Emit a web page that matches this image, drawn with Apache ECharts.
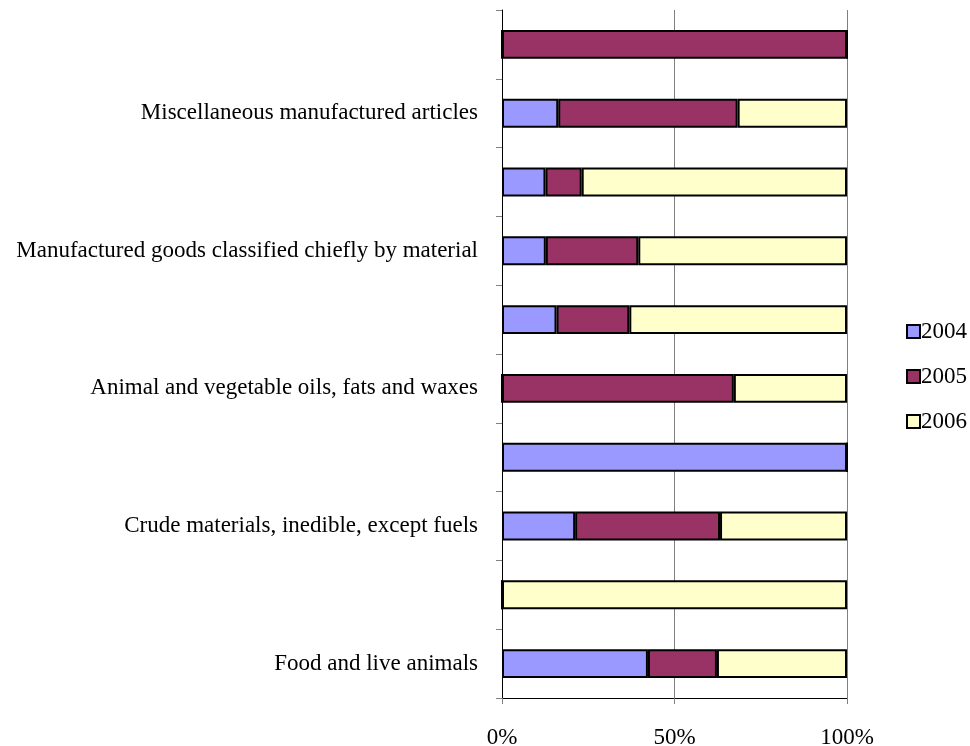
<!DOCTYPE html>
<html><head><meta charset="utf-8">
<script src="https://cdn.jsdelivr.net/npm/echarts@6/dist/echarts.min.js"></script>
<style>html,body{margin:0;padding:0;background:#fff}#c{width:970px;height:746px}</style>
</head><body><div id="c"></div>
<script>
const categories = [
  'Food and live animals',
  'Beverages and tobacco',
  'Crude materials, inedible, except fuels',
  'Mineral fuels, lubricants and related materials',
  'Animal and vegetable oils, fats and waxes',
  'Chemicals and related products, n.e.s.',
  'Manufactured goods classified chiefly by material',
  'Machinery and transport equipment',
  'Miscellaneous manufactured articles',
  'Commodities and transactions not classified elsewhere'
];
const years = ['2004', '2005', '2006'];
const s2004 = [42.3, 0, 21.2, 100, 0, 15.8, 12.7, 12.6, 16.3, 0];
const s2005 = [20.0, 0, 42.0, 0, 67.2, 21.1, 26.8, 10.5, 52.0, 100];
const s2006 = [37.7, 100, 36.8, 0, 32.8, 63.1, 60.5, 76.9, 31.7, 0];
const xTicks = [0, 50, 100];

const colors = ['#9999FF', '#993366', '#FFFFCC'];
const font = '"Liberation Serif", "DejaVu Serif", serif';
const chart = echarts.init(document.getElementById('c'));
const mk = (name, data, i) => ({
  name, type: 'bar', stack: 'total', data, barWidth: '42%',
  itemStyle: { color: colors[i], borderColor: '#000', borderWidth: 2 },
  emphasis: { disabled: true }
});
chart.setOption({
  animation: false,
  textStyle: { fontFamily: font },
  grid: { left: 502, right: 123, top: 10, bottom: 48, containLabel: false, outerBoundsMode: 'none' },
  legend: {
    orient: 'vertical', left: 901, top: 315, itemGap: 22,
    itemWidth: 13, itemHeight: 13, icon: 'rect',
    textStyle: { fontFamily: font, fontSize: 23, color: '#000', padding: [0, 0, 0, -4] },
    data: years.map((y, i) => ({ name: y, itemStyle: { color: colors[i], borderColor: '#000', borderWidth: 2 } }))
  },
  xAxis: {
    type: 'value', min: xTicks[0], max: xTicks[xTicks.length - 1], interval: 50,
    axisLine: { show: true, lineStyle: { color: '#000', width: 1 } },
    axisTick: { show: true, length: 6, lineStyle: { color: '#808080' } },
    axisLabel: { formatter: '{value}%', fontFamily: font, fontSize: 23, color: '#000', margin: 28 },
    splitLine: { show: true, lineStyle: { color: '#808080', width: 1 } }
  },
  yAxis: {
    type: 'category', data: categories,
    axisLine: { show: true, lineStyle: { color: '#000', width: 1 } },
    axisTick: { show: true, length: 6, lineStyle: { color: '#808080' }, interval: 0 },
    axisLabel: { interval: 1, fontFamily: font, fontSize: 23, color: '#000', margin: 24 }
  },
  series: [mk(years[0], s2004, 0), mk(years[1], s2005, 1), mk(years[2], s2006, 2)]
});
</script></body></html>
